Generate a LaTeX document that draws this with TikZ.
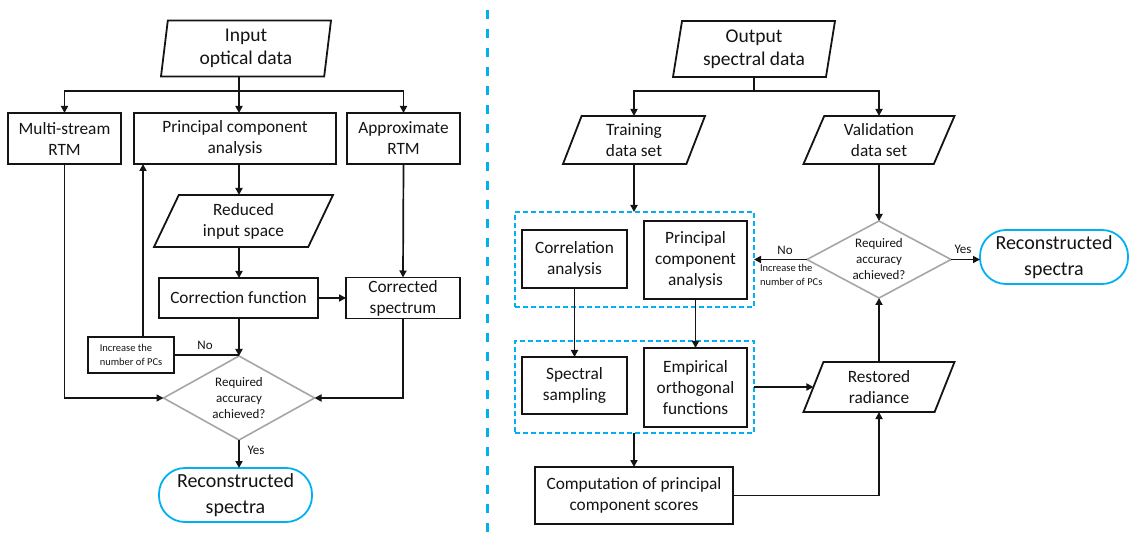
\documentclass[tikz,border=0pt]{standalone}
\usepackage{fontspec}
\setmainfont{Carlito}
\usetikzlibrary{shapes.geometric,arrows.meta}
\definecolor{accent}{RGB}{0,176,240}
\definecolor{dgray}{RGB}{166,166,166}
\definecolor{ink}{RGB}{20,20,20}
\newcommand\fmain{\fontsize{17.3}{21}\selectfont}
\newcommand\ftitle{\fontsize{19.5}{23}\selectfont}
\newcommand\fbig{\fontsize{20}{26}\selectfont}
\newcommand\fsmall{\fontsize{10.5}{14}\selectfont}
\newcommand\fdec{\fontsize{13}{16}\selectfont}
\newcommand\flab{\fontsize{13}{15}\selectfont}
\tikzset{
  box/.style 2 args={draw=ink,rectangle,line width=1.8pt,minimum width=#1pt,minimum height=#2pt,align=center,font=\fmain},
  smallbox/.style 2 args={draw=ink,rectangle,line width=1.8pt,minimum width=#1pt,minimum height=#2pt,align=left,font=\fsmall},
  para/.style n args={4}{draw=ink,trapezium,trapezium left angle=#3,trapezium right angle=#4,
    trapezium stretches body=true,line width=1.8pt,minimum width=#1pt,minimum height=#2pt,align=center,font=\fmain},
  dec/.style 2 args={draw=dgray,diamond,aspect=1.8,line width=1.6pt,minimum width=#1pt,minimum height=#2pt,align=center,font=\fdec},
  term/.style 2 args={draw=accent,rectangle,rounded corners=26pt,line width=1.8pt,minimum width=#1pt,minimum height=#2pt,align=center,font=\fbig},
  grp/.style 2 args={draw=accent,rectangle,line width=1.4pt,dash pattern=on 5pt off 3pt,minimum width=#1pt,minimum height=#2pt},
  lab/.style={font=\flab},
  line/.style={draw=ink,line width=1.7pt},
  arr/.style={draw=ink,line width=1.7pt,-{Triangle[length=7pt,width=7pt]}},
  divider/.style={draw=accent,line width=3pt,dash pattern=on 9pt off 10pt,dash phase=9pt}
}
\begin{document}
\begin{tikzpicture}[x=1pt,y=-1pt,every node/.style={inner sep=0pt,outer sep=0pt,text=ink}]
\useasboundingbox (0,0) rectangle (1130,537);

% separator between the two flow charts
\coordinate (septop) at (487,0);
\coordinate (sepbot) at (487,537);
\draw[divider] (septop) -- (sepbot);

% ---------- left chart ----------
\node[para={170}{56}{80}{100},font=\ftitle] (in) at (246,48.5) {Input\\optical data};
\node[box={113}{51}] (ms) at (64.5,138.5) {Multi-stream\\RTM};
\node[box={202}{51}] (pca1) at (235,138.5) {Principal component\\analysis};
\node[box={113}{51}] (ar) at (403.5,138.5) {Approximate\\RTM};
\node[para={179}{52}{55.3}{124.7}] (red) at (243.5,221) {Reduced\\input space};
\node[box={159}{40}] (cf) at (238.5,298) {Correction function};
\node[box={114}{41}] (cs) at (403,298) {Corrected\\spectrum};
\node[dec={151}{84}] (d1) at (239,398) {Required\\accuracy\\achieved?};
\node[smallbox={86}{36}] (inc) at (131,355) {Increase the\\number of PCs};
\node[term={153}{54}] (rs1) at (235.5,495) {Reconstructed\\spectra};

\coordinate (b1) at (239,91);
\draw[line] (in.south -| b1) -- (b1);
\draw[arr] (b1) -| (ms.north);
\draw[arr] (b1) -- (b1 |- pca1.north);
\draw[arr] (b1) -| (ar.north);
\draw[arr] (pca1.south -| b1) -- (red.north -| b1);
\draw[arr] (red.south -| b1) -- (cf.north -| b1);
\draw[arr] (cf.east) -- (cs.west);
\draw[arr] (ar.south) -- (cs.north);
\draw[arr] (cf.south -| b1) -- (d1.north);
\draw[line] (inc.east) -- (inc.east -| d1.north);
\node[lab] (no1) at (205,345) {No};
\draw[arr] ([xshift=12pt]inc.north) -- ([xshift=12pt]inc.north |- pca1.south);
\draw[arr] (ms.south) |- (d1.west);
\draw[arr] (cs.south) |- (d1.east);
\draw[arr] (d1.south) -- (d1.south |- rs1.north);
\node[lab] (yes1) at (256,450) {Yes};

% ---------- right chart ----------
\node[grp={239}{95}] (g1) at (634.5,259.5) {};
\node[grp={239}{92}] (g2) at (634.5,387) {};

\node[para={162}{56}{76.9}{103.1},font=\ftitle] (out) at (754,49) {Output\\spectral data};
\node[para={142}{48}{60.6}{119.4}] (tr) at (634,140) {Training\\data set};
\node[para={151}{48}{58}{122}] (va) at (879,140) {Validation\\data set};
\node[box={105}{58}] (ca) at (574.5,259) {Correlation\\analysis};
\node[box={103}{78}] (pca2) at (695.5,260) {Principal\\component\\analysis};
\node[dec={144}{77}] (d2) at (879,259.5) {Required\\accuracy\\achieved?};
\node[term={148}{54}] (rs2) at (1054,257) {Reconstructed\\spectra};
\node[box={105}{57}] (ss) at (574.5,385.5) {Spectral\\sampling};
\node[box={103}{79}] (eof) at (695.5,387.5) {Empirical\\orthogonal\\functions};
\node[para={151}{50}{59}{121}] (rr) at (879,387) {Restored\\radiance};
\node[box={198}{57}] (cpc) at (634,495.5) {Computation of principal\\component scores};
\node[font=\fsmall,align=left,anchor=north west] (inc2) at (760,264) {Increase the\\number of PCs};

\coordinate (b2) at (754,91);
\draw[line] (out.south) -- (b2);
\draw[arr] (b2) -| (tr.north);
\draw[arr] (b2) -| (va.north);
\draw[arr] (tr.south) -- (tr.south |- g1.north);
\draw[arr] (va.south) -- (d2.north);
\draw[arr] (d2.west) -- (g1.east);
\node[lab] (no2) at (785,250) {No};
\draw[arr] (d2.east) -- (d2.east -| rs2.west);
\node[lab] (yes2) at (963,249) {Yes};
\draw[arr] (ca.south) -- (ss.north);
\draw[arr] (pca2.south) -- (eof.north);
\draw[arr] (g2.east) -- (rr.west);
\draw[arr] (g2.south -| cpc.north) -- (cpc.north);
\draw[arr] (cpc.east) -| (rr.south);
\draw[arr] (rr.north) -- (d2.south);
\end{tikzpicture}
\end{document}
